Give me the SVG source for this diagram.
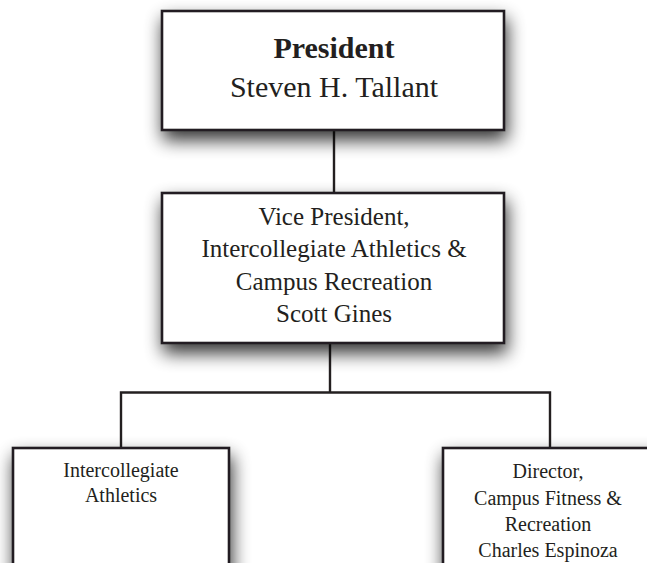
<svg xmlns="http://www.w3.org/2000/svg" width="647" height="563" viewBox="0 0 647 563">
<defs>
<filter id="sh" x="-25%" y="-30%" width="160%" height="190%">
<feGaussianBlur in="SourceAlpha" stdDeviation="9"/>
<feOffset dx="2" dy="9" result="b"/>
<feComponentTransfer><feFuncA type="linear" slope="0.8"/></feComponentTransfer>
<feMerge><feMergeNode/><feMergeNode in="SourceGraphic"/></feMerge>
</filter>
<style>
.box{fill:#fff;stroke:#231f20;stroke-width:2.6}
.t{font-family:"Liberation Serif","Times New Roman",serif;fill:#231f20;text-anchor:middle}
.c{fill:none;stroke:#231f20;stroke-width:2.4}
</style>
</defs>
<rect width="647" height="563" fill="#fff"/>
<g id="connectors">
<path class="c" d="M334 130V193"/>
<path class="c" d="M330 343V392.5M121 448V392.5H550V448"/>
</g>
<g id="president">
<rect class="box" x="162" y="11" width="342" height="119" filter="url(#sh)"/>
<text class="t" x="334" y="58" font-size="30" font-weight="bold">President</text>
<text class="t" x="334" y="97" font-size="30">Steven H. Tallant</text>
</g>
<g id="vp">
<rect class="box" x="162" y="193" width="342" height="150" filter="url(#sh)"/>
<text class="t" x="334" y="225" font-size="25">Vice President,</text>
<text class="t" x="334" y="257" font-size="25">Intercollegiate Athletics &amp;</text>
<text class="t" x="334" y="290" font-size="25">Campus Recreation</text>
<text class="t" x="334" y="322" font-size="25">Scott Gines</text>
</g>
<g id="athletics">
<rect class="box" x="13" y="448" width="216" height="140" filter="url(#sh)"/>
<text class="t" x="121" y="477" font-size="20">Intercollegiate</text>
<text class="t" x="121" y="502" font-size="20">Athletics</text>
</g>
<g id="fitness">
<rect class="box" x="443" y="448" width="216" height="140" filter="url(#sh)"/>
<text class="t" x="548" y="478" font-size="20">Director,</text>
<text class="t" x="548" y="505" font-size="20">Campus Fitness &amp;</text>
<text class="t" x="548" y="531" font-size="20">Recreation</text>
<text class="t" x="548" y="557" font-size="20">Charles Espinoza</text>
</g>
</svg>
